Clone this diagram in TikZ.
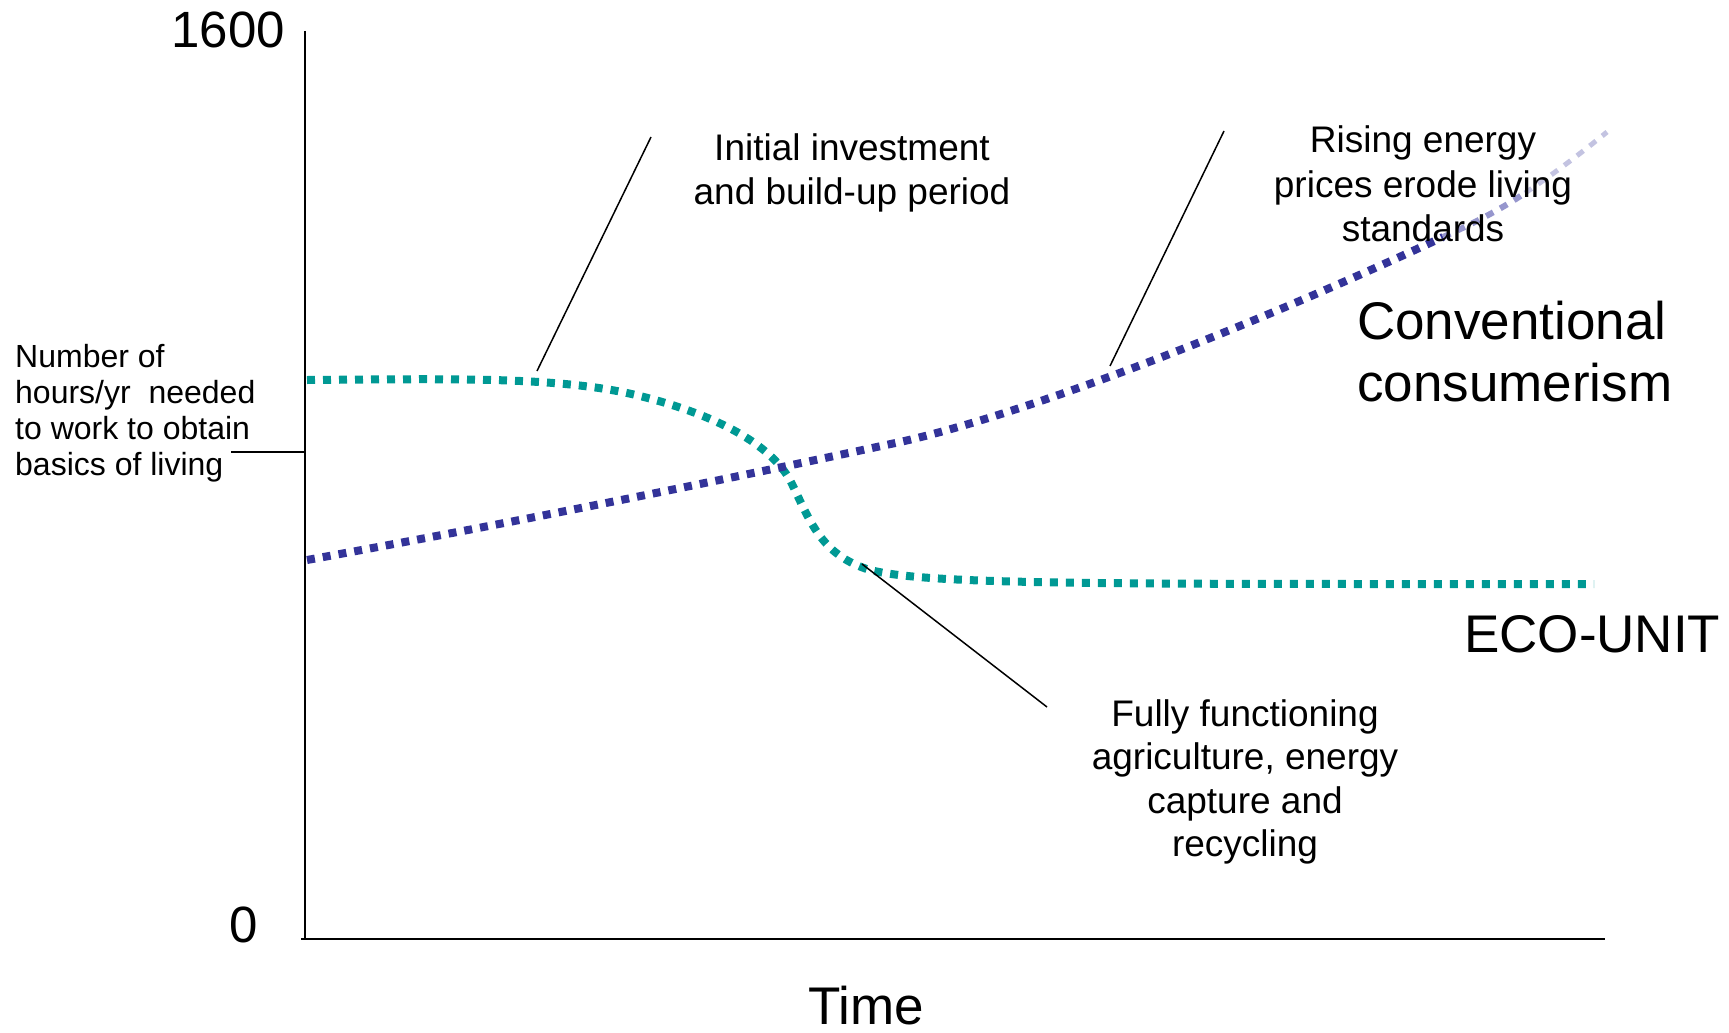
\documentclass[tikz,border=0pt]{standalone}
\usepackage{fontspec}
\setmainfont{Liberation Sans}
\usepackage{xcolor}
\definecolor{ecoteal}{RGB}{0,153,148}
\definecolor{convblue}{RGB}{51,51,153}
\definecolor{fadeblue}{RGB}{150,150,205}
\definecolor{paleblue}{RGB}{195,195,225}

\begin{document}
\begin{tikzpicture}[x=1pt,y=1pt,yscale=-1,xscale=1,
    dotline/.style={line width=8, dash pattern={on 8pt off 8pt}},
    leader/.style={line width=1.5},
    txt/.style={inner sep=0pt, align=center}]
    \useasboundingbox (0,0) rectangle (1729,1033); %set diagram to the size of the reference

    %Straight Lines (axes)
    \coordinate (ytop) at (305,31);
    \coordinate (origin) at (305,939);
    \coordinate (xstart) at (301,939);
    \coordinate (xend) at (1605,939);
    \coordinate (tickl) at (231,452);
    \coordinate (tickr) at (305,452);
    \draw [line width=2]  (ytop) -- (origin) ;
    \draw [line width=2.5]  (xstart) -- (xend) ;
    \draw [line width=1.5]  (tickl) -- (tickr) ;

    %Curve Lines (ECO-UNIT)
    \draw [color=ecoteal, dotline]  (307,380) .. controls (450,379) and (560,376) .. (640,396) .. controls (720,416) and (770,445) .. (790,480) .. controls (810,520) and (820,555) .. (870,570) .. controls (930,585) and (1100,584) .. (1594,584) ;
    %Curve Lines (conventional consumerism)
    \draw [color=convblue, dotline]  (307,560) .. controls (500,525) and (700,485) .. (900,442) .. controls (1000,420) and (1200,350) .. (1443,237) ;
    \draw [color=fadeblue, dotline, line width=6]  (1443,237) .. controls (1470,225) and (1500,210) .. (1525,193) ;
    \draw [color=paleblue, dotline, line width=5]  (1525,193) .. controls (1555,173) and (1585,150) .. (1607,132) ;

    %Straight Lines (leaders)
    \coordinate (investtop) at (651,137);
    \coordinate (investtip) at (537,371);
    \coordinate (risetop) at (1224,131);
    \coordinate (risetip) at (1110,366);
    \coordinate (fulltip) at (862,564);
    \coordinate (fullend) at (1047,707);
    \draw [leader]  (investtop) -- (investtip) ;
    \draw [leader]  (risetop) -- (risetip) ;
    \draw [leader]  (fulltip) -- (fullend) ;

    % Text Node
    \node (ymax) [txt, anchor=base east, font=\fontsize{51}{61}\selectfont] at (285,48) {1600};
    % Text Node
    \node (ymin) [txt, anchor=base east, font=\fontsize{51}{61}\selectfont] at (258,942) {0};
    % Text Node
    \node (time) [txt, anchor=base, font=\fontsize{53}{63}\selectfont] at (866,1024) {Time};
    % Text Node
    \node (hours) [txt, anchor=west, align=left, font=\fontsize{32}{36}\selectfont] at (15,413) {Number of\\hours/yr\ \ needed\\to work to obtain\\basics of living};
    % Text Node
    \node (invest) [txt, font=\fontsize{37}{43.5}\selectfont] at (852,173) {Initial investment\\and build-up period};
    % Text Node
    \node (rising) [txt, font=\fontsize{37}{44.5}\selectfont] at (1423,184) {Rising energy\\prices erode living\\standards};
    % Text Node
    \node (conv) [txt, anchor=west, align=left, font=\fontsize{53}{62}\selectfont] at (1357,352) {Conventional\\consumerism};
    % Text Node
    \node (eco) [txt, anchor=base west, font=\fontsize{53}{63}\selectfont] at (1464,652) {ECO-UNIT};
    % Text Node
    \node (full) [txt, font=\fontsize{37}{43.5}\selectfont] at (1245,782) {Fully functioning\\agriculture, energy\\capture and\\recycling};

\end{tikzpicture}
\end{document}
